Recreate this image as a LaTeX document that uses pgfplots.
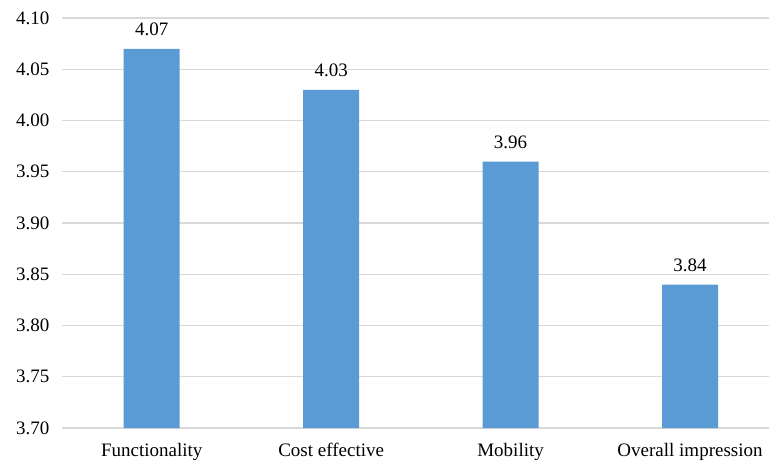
\documentclass[border=0pt]{standalone}
\usepackage{fontspec}
\setmainfont{Liberation Serif}
\usepackage{pgfplots}
\pgfplotsset{compat=1.18}
\definecolor{barblue}{HTML}{5B9BD5}
\definecolor{gridgray}{HTML}{D9D9D9}
\newfontfamily\tnr{Liberation Serif}
\begin{document}
\begin{tikzpicture}
\begin{axis}[
  name=ax,
  scale only axis,
  width=707pt, height=410pt,
  xmin=-0.5, xmax=3.44,
  ymin=3.70, ymax=4.10,
  ytick={3.70,3.75,3.80,3.85,3.90,3.95,4.00,4.05,4.10},
  xtick=data,
  xticklabels={Functionality,Cost effective,Mobility,Overall impression},
  ymajorgrids,
  grid style={gridgray, line width=1.3pt},
  axis x line*=bottom,
  x axis line style={draw=gridgray, line width=1.3pt},
  axis y line*=left,
  y axis line style={draw=none},
  tick style={draw=none},
  major tick length=0pt,
  font=\tnr\fontsize{19}{22}\selectfont,
  /pgf/number format/fixed,
  /pgf/number format/fixed zerofill,
  /pgf/number format/precision=2,
  /pgf/number format/assume math mode=true,
  yticklabel style={xshift=-9pt},
  xticklabel style={yshift=-12pt},
  ybar, bar width=56pt,
  nodes near coords,
  every node near coord/.append style={yshift=9pt, black},
  clip=false,
]
\addplot[fill=barblue, draw=none] coordinates {(0,4.07) (1,4.03) (2,3.96) (3,3.84)};
\end{axis}
\pgfresetboundingbox
\path ([xshift=-62pt,yshift=-33pt]ax.south west) rectangle ([yshift=18pt]ax.north east);
\end{tikzpicture}
\end{document}
